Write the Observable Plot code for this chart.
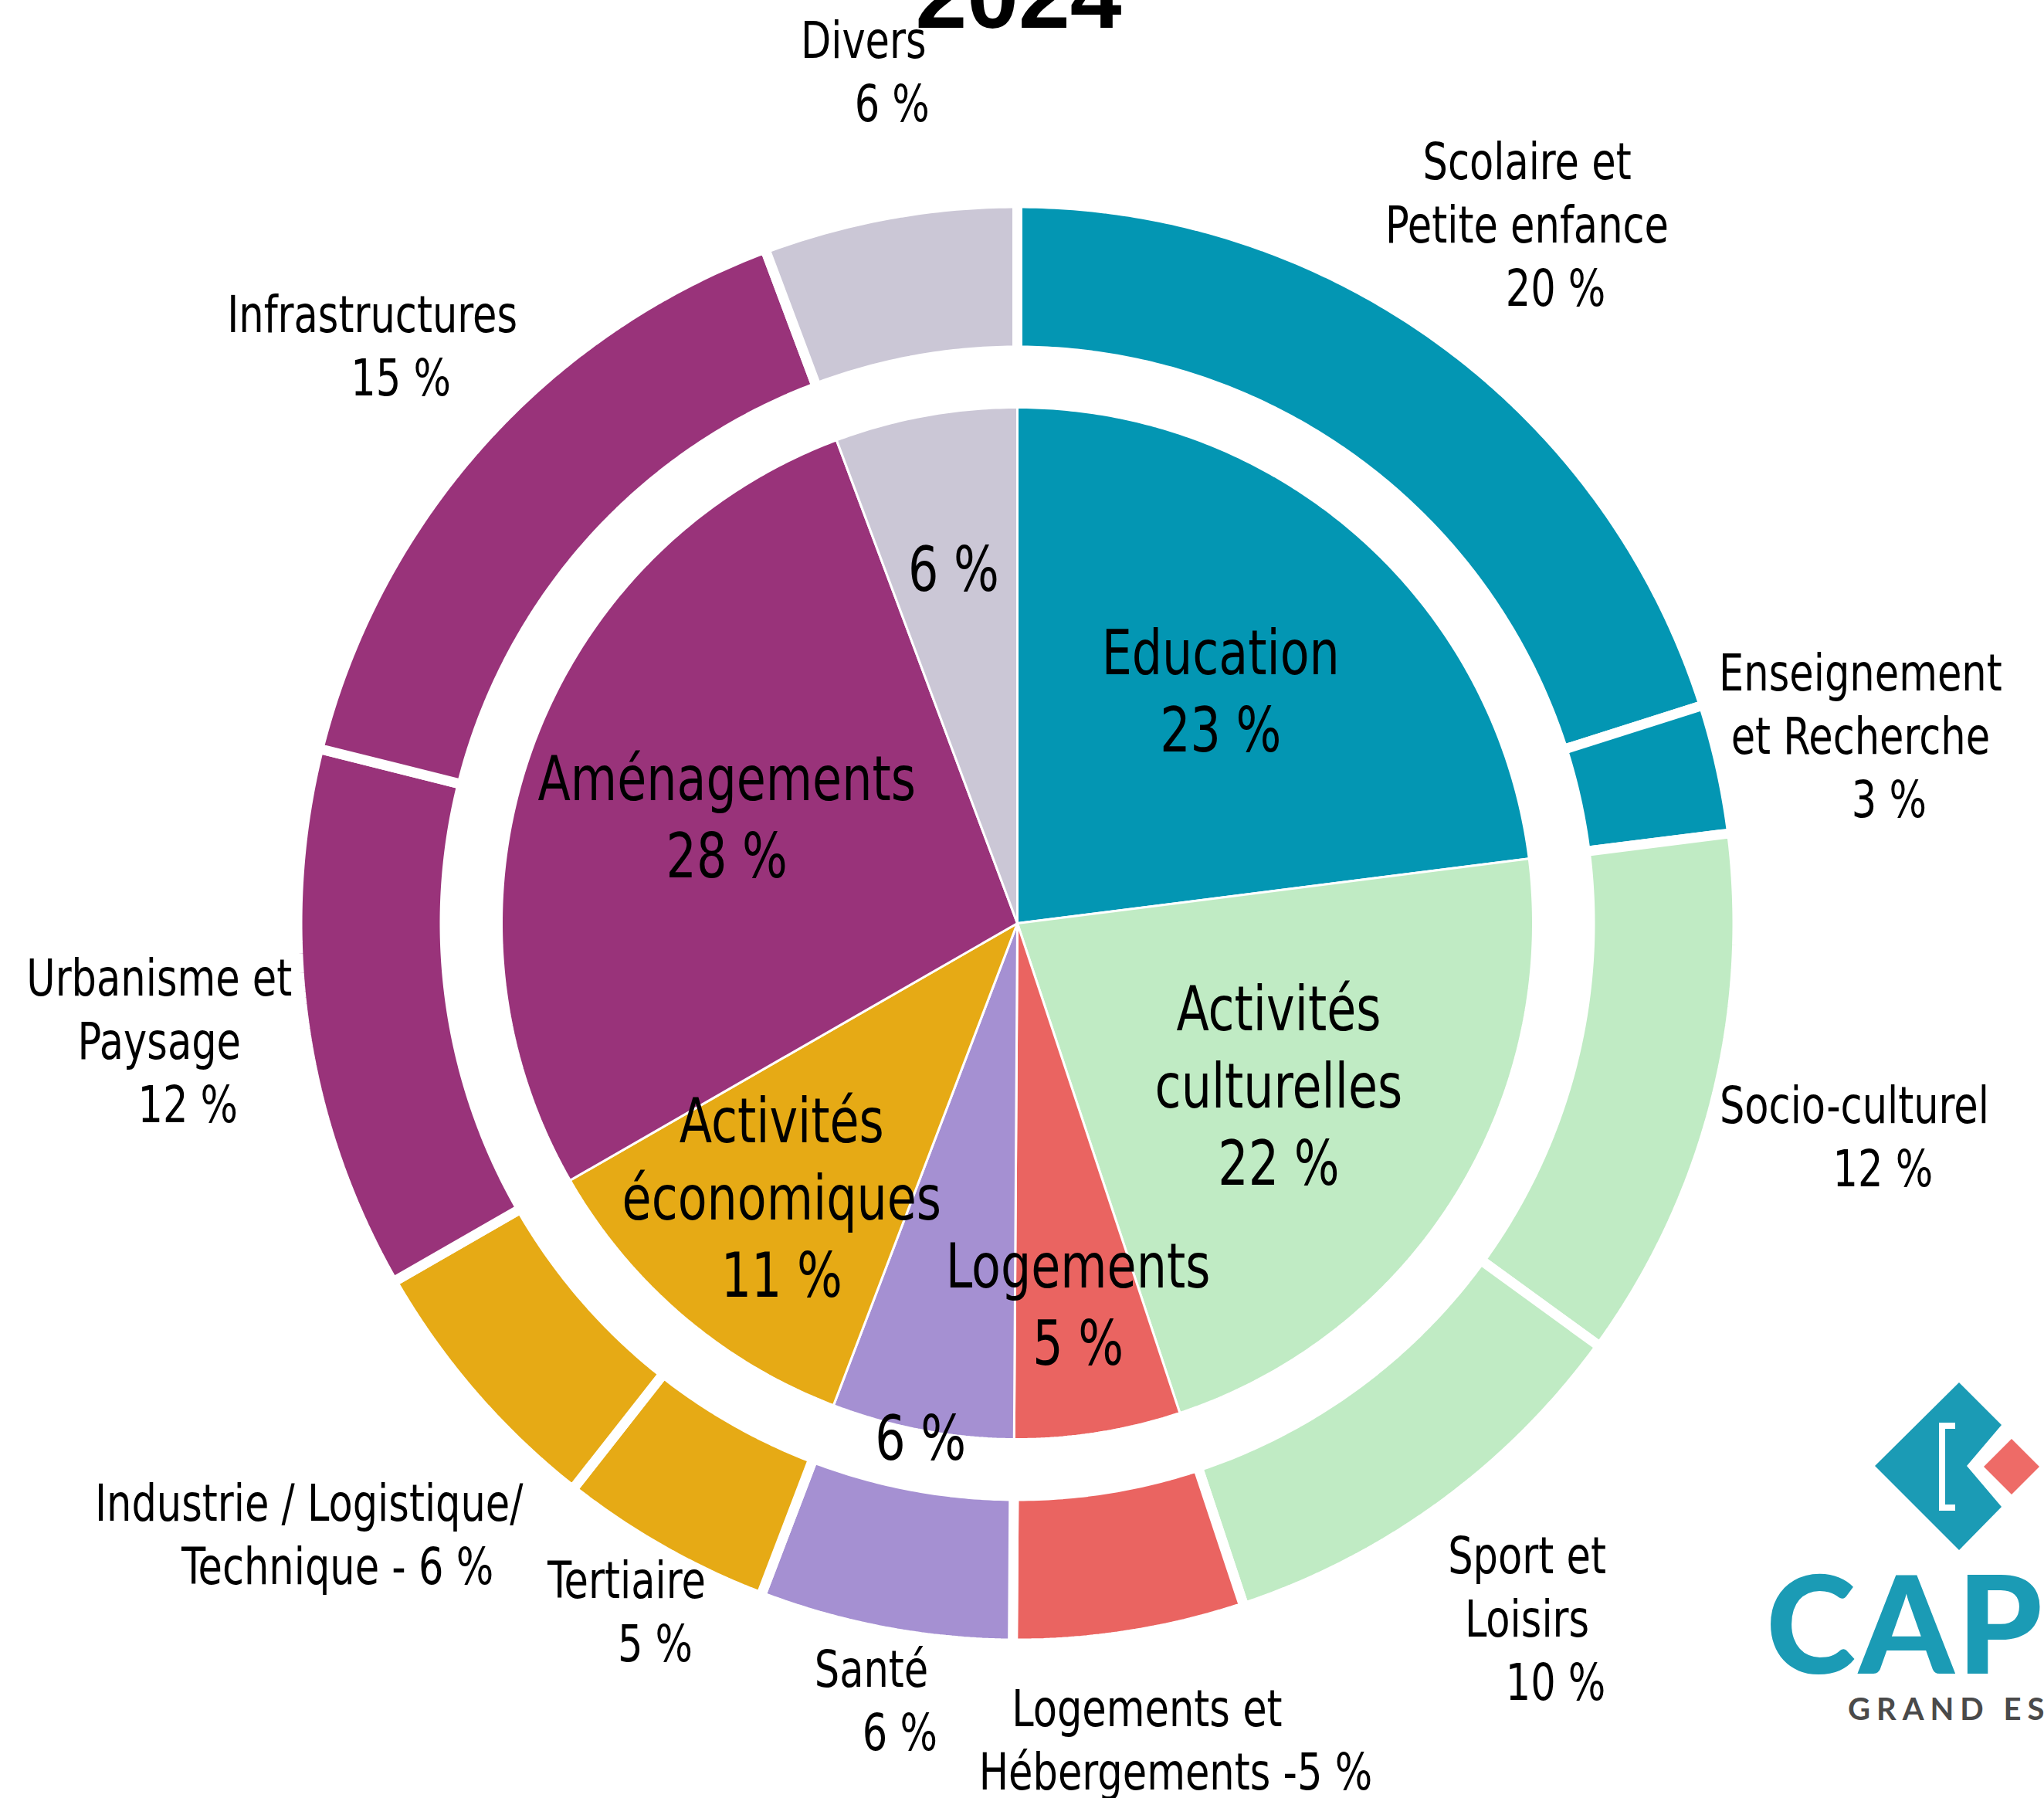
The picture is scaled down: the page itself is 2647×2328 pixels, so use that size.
<!DOCTYPE html>
<html>
<head>
<meta charset="utf-8">
<script src="https://cdn.jsdelivr.net/npm/d3@7"></script>
<script src="https://cdn.jsdelivr.net/npm/@observablehq/plot@0.6"></script>
<style>
  html, body { margin: 0; padding: 0; background: #fff; }
  #wrap { position: relative; width: 2647px; height: 2328px; overflow: hidden; background: #fff; }
  #chart { position: absolute; left: 0; top: 0; }
  #title { position: absolute; left: 0; width: 2638px; top: -66px; margin: 0; text-align: center;
           font: bold 120px/120px 'Liberation Sans', Arial, sans-serif; color: #000; }
  #logo { position: absolute; left: 0; top: 0; pointer-events: none; }
</style>
</head>
<body>
<div id="wrap">
  <div id="chart"></div>
  <h1 id="title">2024</h1>
  <svg id="logo" width="2647" height="2328" viewBox="0 0 2647 2328">
    <polygon points="2428,1898 2537,1790 2592,1845 2547,1898 2592,1951 2537,2007" fill="#1b9bb5"/>
    <polygon points="2569,1899 2605,1863 2641,1899 2605,1935" fill="#ee6b67"/>
    <polyline points="2532,1846 2515,1846 2515,1952 2532,1952" fill="none" stroke="#fff" stroke-width="8"/>
    <text x="2287" y="2167" font-family="Lato, 'Noto Sans', sans-serif" font-weight="900" font-size="176" fill="#1b9bb5" letter-spacing="4">CAP</text>
    <text x="2393" y="2227" font-family="Lato, 'Noto Sans', sans-serif" font-weight="700" font-size="40" fill="#4a4a4a" letter-spacing="8">GRAND EST</text>
  </svg>
</div>
<script>
// ---------------- data ----------------
const groups = ["Education", "Activités culturelles", "Logements", "Santé", "Activités économiques", "Aménagements", "Divers"];
const groupColors = ["#0396b3", "#c0ebc4", "#ea6461", "#a590d2", "#e6aa15", "#99337a", "#cbc7d6"];
const groupNameLines = [["Education"], ["Activités", "culturelles"], ["Logements"], [], ["Activités", "économiques"], ["Aménagements"], []];

const subCategories = ["Scolaire et Petite enfance", "Enseignement et Recherche", "Socio-culturel", "Sport et Loisirs",
  "Logements et Hébergements", "Santé", "Tertiaire", "Industrie / Logistique/ Technique", "Urbanisme et Paysage",
  "Infrastructures", "Divers"];
const subParents = ["Education", "Education", "Activités culturelles", "Activités culturelles", "Logements", "Santé",
  "Activités économiques", "Activités économiques", "Aménagements", "Aménagements", "Divers"];
const subShares = [20.1, 2.9, 12.0, 9.9, 5.2, 5.7, 4.8, 6.1, 12.2, 15.4, 5.7];
const subLabelText = ["Scolaire et\nPetite enfance", "Enseignement\net Recherche", "Socio-culturel", "Sport et\nLoisirs",
  "Logements et\nHébergements -", "Santé", "Tertiaire", "Industrie / Logistique/\nTechnique - ", "Urbanisme et\nPaysage",
  "Infrastructures", "Divers"];

// ---------------- layout ----------------
const W = 2647, H = 2328, CX = 1317, CY = 1195;
const pieR = 668, ringR0 = 741.5, ringR1 = 932.5;
const subLabelRadius = [1118, 1118, 1119, 1118, 1073, 1026, 1027, 1213, 1122, 1120, 1119];
const groupLabelRadius = [398, 400, 502, 681, 470, 400, 464];
const font = "'Liberation Sans Narrow', 'Arial Narrow', 'DejaVu Sans Condensed', Roboto, sans-serif";
const textSqueeze = 0.86;

// ---------------- derived ----------------
const groupShares = groups.map(g => d3.sum(subShares.filter((_, i) => subParents[i] === g)));
const pct = v => `${Math.round(v)} %`;
function spans(values) { let c = 0; return values.map(v => { const s = c; c += v; return [s, c]; }); }
const ang = p => 2 * Math.PI * p / 100;

function ringPoints(keys, parents, values, r0, r1) {
  const pts = [];
  spans(values).forEach(([s, e], i) => {
    const a0 = ang(s), a1 = ang(e);
    const n = Math.max(2, Math.ceil((a1 - a0) / (Math.PI / 360)));
    for (let k = 0; k <= n; k++) {
      const a = a0 + (a1 - a0) * k / n;
      pts.push({key: keys[i], group: parents[i], x: r1 * Math.sin(a), y: -r1 * Math.cos(a)});
    }
    if (r0 > 0) {
      for (let k = n; k >= 0; k--) {
        const a = a0 + (a1 - a0) * k / n;
        pts.push({key: keys[i], group: parents[i], x: r0 * Math.sin(a), y: -r0 * Math.cos(a)});
      }
    } else pts.push({key: keys[i], group: parents[i], x: 0, y: 0});
  });
  return pts;
}

function labelRows(linesList, values, radii, lineHeight, lastShift) {
  const rows = [];
  spans(values).forEach(([s, e], i) => {
    const a = ang((s + e) / 2), r = radii[i];
    const bx = r * Math.sin(a), by = -r * Math.cos(a);
    const lines = linesList[i];
    const n = lines.length;
    lines.forEach((t, j) => rows.push({
      t, x: bx + (j === n - 1 && n > 1 ? lastShift : 0), y: by + (j - (n - 1) / 2) * lineHeight
    }));
  });
  return rows;
}

const outerLines = subLabelText.map((t, i) =>
  (t + (/[- ]$/.test(t) ? "" : "\n") + pct(subShares[i])).split("\n"));
const innerLines = groupNameLines.map((l, i) => [...l, pct(groupShares[i])]);

const outerPts = ringPoints(subCategories, subParents, subShares, ringR0, ringR1);
const innerPts = ringPoints(groups, groups, groupShares, 0, pieR);
const outerLabels = labelRows(outerLines, subShares, subLabelRadius, 82, 37);
const innerLabels = labelRows(innerLines, groupShares, groupLabelRadius, 100, 0);

const chart = Plot.plot({
  width: W, height: H, margin: 0,
  x: {domain: [-CX, W - CX], range: [0, W], axis: null},
  y: {domain: [-CY, H - CY], range: [0, H], axis: null},
  color: {domain: groups, range: groupColors},
  style: {background: "white", fontFamily: font},
  marks: [
    Plot.line(outerPts, {x: "x", y: "y", z: "key", fill: "group", stroke: "white", strokeWidth: 13,
      strokeLinejoin: "miter", curve: "linear-closed"}),
    Plot.line(innerPts, {x: "x", y: "y", z: "key", fill: "group", stroke: "white", strokeWidth: 3,
      strokeLinejoin: "miter", curve: "linear-closed"}),
    Plot.text(outerLabels, {x: "x", y: "y", text: "t", fontSize: 66, fill: "black",
      textAnchor: "middle", lineAnchor: "middle"}),
    Plot.text(innerLabels, {x: "x", y: "y", text: "t", fontSize: 80, fill: "black",
      textAnchor: "middle", lineAnchor: "middle"})
  ]
});
document.getElementById("chart").appendChild(chart);

// narrow the label glyphs horizontally around each label's own centre
chart.querySelectorAll("text").forEach(t => {
  const b = t.getBoundingClientRect();
  const cx = b.left + b.width / 2;
  const tr = t.getAttribute("transform") || "";
  t.setAttribute("transform", `translate(${cx},0) scale(${textSqueeze},1) translate(${-cx},0) ${tr}`);
});
</script>
</body>
</html>
